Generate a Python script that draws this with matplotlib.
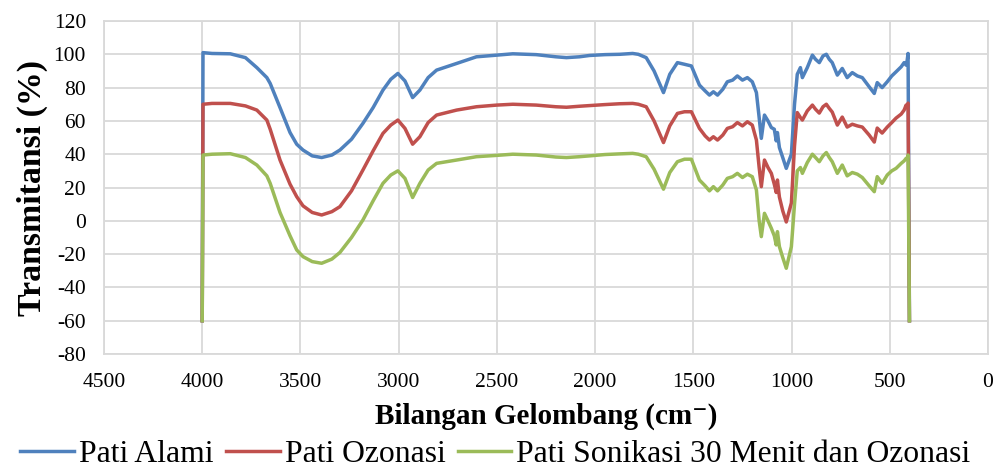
import matplotlib.pyplot as plt

# wavenumber (cm-1) and transmittance (%)
wavenumber = [4000, 3996, 3950, 3857, 3780, 3722, 3671, 3654, 3604, 3553, 3519, 3487,
              3440, 3392, 3340, 3299, 3240, 3182, 3130, 3080, 3040, 3004, 2968, 2929,
              2892, 2850, 2807, 2705, 2604, 2500, 2419, 2300, 2200, 2146, 2080, 2028,
              1950, 1875, 1809, 1780, 1740, 1700, 1652, 1620, 1581, 1545, 1510, 1469,
              1440, 1418, 1398, 1377, 1350, 1327, 1300, 1276, 1250, 1225, 1200, 1179,
              1165, 1154, 1138, 1120, 1103, 1088, 1078, 1072, 1062, 1045, 1027, 1001,
              985, 971, 955, 945, 920, 894, 878, 859, 840, 823, 808, 793,
              767, 742, 717, 691, 665, 640, 605, 579, 564, 539, 513, 490,
              468, 442, 427, 417, 412, 407, 400]

pati_alami = [-60, 101, 100.5, 100.3, 98, 92, 86, 82.5, 68, 53, 46, 42.5,
              39, 38, 39.5, 42.5, 49, 58.5, 68, 78.5, 85, 88.5, 84, 74,
              78.5, 86, 90.5, 94.5, 98.5, 99.5, 100.3, 99.8, 98.5, 98, 98.5, 99.3,
              99.8, 100, 100.5, 100, 98, 90, 77, 88, 95, 94, 93, 81.5,
              78, 75.5, 77.5, 75.5, 79, 83.5, 84.5, 87, 84.5, 86, 83.5, 77,
              62, 49.5, 63.5, 60, 56, 55, 48, 53, 44, 38, 31.5, 40,
              70, 88, 92, 86, 92, 99.5, 97, 95, 99, 100, 97, 95,
              87.5, 91.5, 86, 89, 87, 86, 80.5, 76.5, 83, 80, 83.5, 87,
              89.5, 92.5, 95, 93.5, 96, 100.5, -60]

pati_ozonasi = [-60, 70, 70.5, 70.5, 69, 66.5, 60.5, 55, 36.5, 22, 14.5, 9,
                5, 3.5, 5.5, 8.5, 18, 30.5, 42, 52.5, 57.5, 60.5, 55.5, 46,
                50.5, 59, 63.5, 66.5, 68.5, 69.5, 70, 69.5, 68.5, 68.2, 68.8, 69.2,
                69.8, 70.3, 70.5, 70, 68.5, 60, 47, 57, 64.5, 65.5, 65.5, 55.5,
                51, 48.5, 50.5, 48.5, 51.5, 55.5, 56.5, 59, 57, 59.5, 57.5, 48.5,
                32, 20.5, 36.5, 32, 28.5, 22, 17, 24.5, 14.3, 6, -0.7, 10.7,
                45, 65, 62, 60.5, 66, 69.5, 67, 64.7, 68.5, 70, 67.5, 65.3,
                57.5, 62.3, 56.3, 58, 57, 56.3, 51.5, 47.3, 55.7, 52.7, 56.3, 59,
                61.7, 64.1, 66.5, 69.5, 68.3, 70.7, -60]

pati_sonikasi = [-60, 39.5, 40, 40.3, 38, 33.5, 27, 22.5, 5, -9, -17.5, -21.5,
                 -24.5, -25.5, -23, -19, -10, 0.5, 12, 22.5, 27.5, 30, 25.5, 14,
                 22.5, 30.5, 34.5, 36.5, 38.5, 39.3, 40, 39.5, 38.3, 38, 38.5, 39,
                 39.8, 40.2, 40.5, 40, 38.5, 31, 19, 29, 35.5, 37, 37, 24.5,
                 21, 18, 20.5, 18, 21.5, 25.5, 26.5, 28.5, 26, 28, 26.5, 18.5,
                 0, -9.5, 4.5, 0, -4.5, -9, -14.5, -6.5, -15.5, -22, -28.5, -15.5,
                 10, 30, 32, 28.5, 35, 40, 38, 35.5, 39, 41, 38, 35.5,
                 28.5, 33.5, 27, 29, 28, 26, 21, 17.5, 26.5, 22.5, 27.5, 30,
                 31.5, 34.5, 36, 37.5, 37, 39.5, -60]

series = [
    ("Pati Alami", pati_alami, "#4F81BD"),
    ("Pati Ozonasi", pati_ozonasi, "#C0504D"),
    ("Pati Sonikasi 30 Menit dan Ozonasi", pati_sonikasi, "#9BBB59"),
]

plt.rcParams["font.family"] = ["Liberation Serif", "DejaVu Serif"]
plt.rcParams["axes.unicode_minus"] = False

fig = plt.figure(figsize=(9.97, 4.75), dpi=100)
ax = fig.add_axes([0.1043, 0.2547, 0.8867, 0.7011])

for name, vals, color in series:
    ax.plot(wavenumber, vals, color=color, lw=2.5, label=name,
            solid_joinstyle="round")

ax.set_xlim(4500, 0)
ax.set_ylim(-80, 120)
ax.set_xticks(range(4500, -1, -500))
ax.set_yticks(range(-80, 121, 20))
ax.grid(True, color="#D9D9D9", lw=1.3)
ax.set_axisbelow(True)
for sp in ax.spines.values():
    sp.set_color("#D9D9D9")
    sp.set_linewidth(1.3)
ax.tick_params(length=0, labelsize=15.5)
ax.tick_params(axis="y", pad=13)
ax.tick_params(axis="x", pad=14)

ax.set_xlabel("Bilangan Gelombang (cm\u207b)", fontsize=21,
              fontweight="bold", labelpad=7)
ax.set_ylabel("Transmitansi (%)", fontsize=24.4, fontweight="bold", labelpad=4)

fig.legend(loc="lower center", bbox_to_anchor=(0.497, 0.012), ncol=3,
           frameon=False, fontsize=22.8, handlelength=1.7, handletextpad=0.16,
           columnspacing=0.38, borderaxespad=0, borderpad=0)

fig.savefig("out.png", dpi=100)
